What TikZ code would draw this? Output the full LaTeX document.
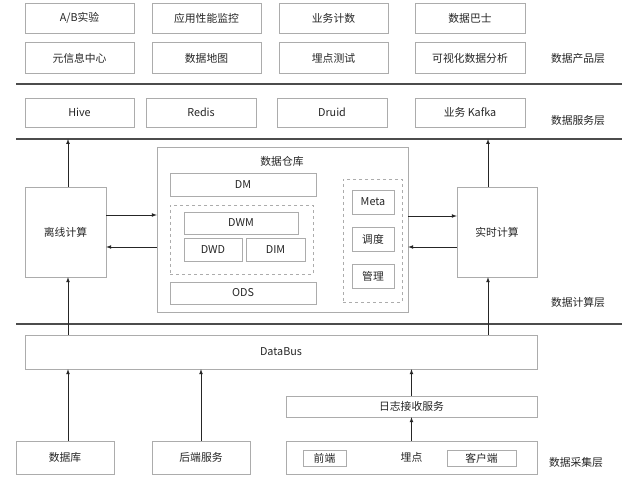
\documentclass[tikz,border=0pt]{standalone}
\usepackage{fontspec}
\setmainfont{Noto Sans CJK SC}

\begin{document}
\begin{tikzpicture}[x=1pt,y=-1pt,>=latex,
  font=\fontsize{10.8}{13}\selectfont,
  box/.style={draw=gray!65,text=black!85,inner sep=0pt},
  dbox/.style={draw=gray!65,dashed,inner sep=0pt},
  layer/.style={text=black!85},
  sep/.style={draw=black!70,line width=1.2pt},
  flow/.style={->,black!85,line width=0.7pt}]

  \useasboundingbox [fill=white] (0,0) rectangle (640,481);

  % data product layer
  \node [box,minimum width=109pt,minimum height=30pt] (ab) at (79.5,18) {A/B实验};
  \node [box,minimum width=109pt,minimum height=30pt] (apm) at (206.5,18) {应用性能监控};
  \node [box,minimum width=109pt,minimum height=30pt] (count) at (333.5,18) {业务计数};
  \node [box,minimum width=110pt,minimum height=30pt] (dbus) at (470,18) {数据巴士};
  \node [box,minimum width=109pt,minimum height=31pt] (meta) at (79.5,58) {元信息中心};
  \node [box,minimum width=109pt,minimum height=31pt] (dmap) at (206.5,58) {数据地图};
  \node [box,minimum width=109pt,minimum height=31pt] (ptest) at (333.5,58) {埋点测试};
  \node [box,minimum width=110pt,minimum height=31pt] (vis) at (470,58) {可视化数据分析};
  \node [layer] (prodlayer) at (578,58) {数据产品层};

  \coordinate (l1w) at (16,84);
  \coordinate (l1e) at (622,84);
  \draw [sep] (l1w) -- (l1e);

  % data service layer
  \node [box,minimum width=109pt,minimum height=29pt] (hive) at (79.5,112.5) {Hive};
  \node [box,minimum width=110pt,minimum height=29pt] (redis) at (201,112.5) {Redis};
  \node [box,minimum width=110pt,minimum height=29pt] (druid) at (332,112.5) {Druid};
  \node [box,minimum width=110pt,minimum height=29pt] (kafka) at (470,112.5) {业务 Kafka};
  \node [layer] (servlayer) at (578,120) {数据服务层};

  \coordinate (l2w) at (16,139);
  \coordinate (l2e) at (622,139);
  \draw [sep] (l2w) -- (l2e);

  % data compute layer
  \node [box,minimum width=81pt,minimum height=90pt] (offline) at (65.5,232) {离线计算};
  \node [box,minimum width=80pt,minimum height=90pt] (realtime) at (497,232) {实时计算};
  \node [box,minimum width=251pt,minimum height=165pt] (dw) at (282.5,229.5) {};
  \node [text=black!85] (dwtitle) at (282,161) {数据仓库};
  \node [box,minimum width=146pt,minimum height=23pt] (dm) at (243,184.5) {DM};
  \node [dbox,minimum width=143pt,minimum height=69pt] (dwbox) at (241.5,239.5) {};
  \node [box,minimum width=114pt,minimum height=22pt] (dwm) at (241,223) {DWM};
  \node [box,minimum width=58pt,minimum height=23pt] (dwd) at (213,249.5) {DWD};
  \node [box,minimum width=59pt,minimum height=23pt] (dim) at (275.5,249.5) {DIM};
  \node [box,minimum width=146pt,minimum height=22pt] (ods) at (243,293) {ODS};
  \node [dbox,minimum width=59pt,minimum height=123pt] (mgmtbox) at (372.5,240.5) {};
  \node [box,minimum width=42pt,minimum height=24pt] (metabox) at (373,202) {Meta};
  \node [box,minimum width=42pt,minimum height=24pt] (sched) at (373,239) {调度};
  \node [box,minimum width=42pt,minimum height=24pt] (manage) at (373,276.5) {管理};
  \node [layer] (complayer) at (578,302) {数据计算层};

  \draw [flow] ([yshift=17pt]offline.east) -- ([yshift=14.5pt]dw.west);
  \draw [flow] ([yshift=-17.5pt]dw.west) -- ([yshift=-15pt]offline.east);
  \draw [flow] ([yshift=13.5pt]dw.east) -- ([yshift=16pt]realtime.west);
  \draw [flow] ([yshift=-15pt]realtime.west) -- ([yshift=-17.5pt]dw.east);

  \draw [flow] ([xshift=2.5pt]offline.north) -- ([xshift=2.5pt]offline.north |- l2w);
  \draw [flow] ([xshift=-9pt]realtime.north) -- ([xshift=-9pt]realtime.north |- l2w);

  \coordinate (l3w) at (16,324);
  \coordinate (l3e) at (622,324);
  \draw [sep] (l3w) -- (l3e);

  % data collection layer
  \node [box,minimum width=512pt,minimum height=34pt] (databus) at (281,352) {DataBus};
  \node [box,minimum width=251pt,minimum height=21pt] (logsvc) at (411.5,406.5) {日志接收服务};
  \node [box,minimum width=98pt,minimum height=33pt] (db) at (65,457.5) {数据库};
  \node [box,minimum width=98pt,minimum height=33pt] (backend) at (201,457.5) {后端服务};
  \node [box,minimum width=251pt,minimum height=33pt] (track) at (411.5,457.5) {埋点};
  \node [box,minimum width=43pt,minimum height=16pt] (front) at (324.5,458) {前端};
  \node [box,minimum width=69pt,minimum height=16pt] (client) at (481.5,458) {客户端};
  \node [layer] (colllayer) at (576,462) {数据采集层};

  \draw [flow] ([xshift=2.5pt]offline.south |- databus.north) -- ([xshift=2.5pt]offline.south);
  \draw [flow] ([xshift=-9pt]realtime.south |- databus.north) -- ([xshift=-9pt]realtime.south);
  \draw [flow] ([xshift=3pt]db.north) -- ([xshift=3pt]db.north |- databus.south);
  \draw [flow] (backend.north) -- (backend.north |- databus.south);
  \draw [flow] (logsvc.north) -- (logsvc.north |- databus.south);
  \draw [flow] (track.north) -- (logsvc.south);

\end{tikzpicture}
\end{document}
